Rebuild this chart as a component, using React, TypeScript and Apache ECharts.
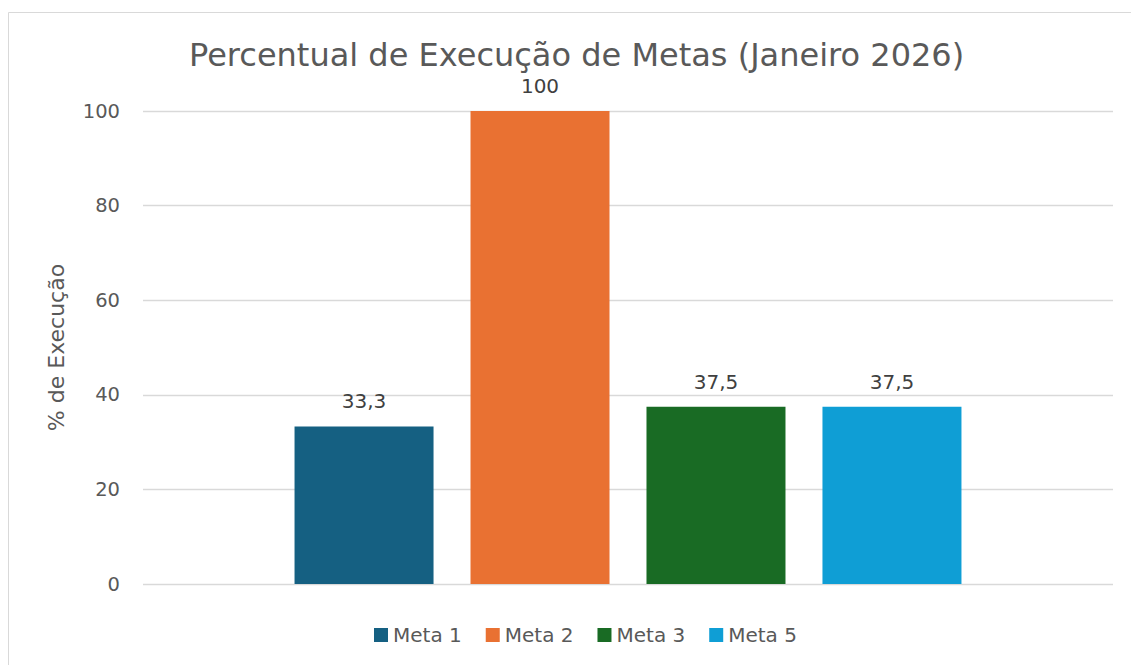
import React, { useEffect, useRef } from "react";
import * as echarts from "echarts";

const categories = [""];
const seriesNames = ["Meta 1", "Meta 2", "Meta 3", "Meta 5"];
const seriesValues = [33.3, 100, 37.5, 37.5];
const seriesColors = ["#156082", "#E97132", "#196B24", "#0F9ED5"];
const yTicks = { min: 0, max: 100, interval: 20 };
const titleText = "Percentual de Execução de Metas (Janeiro 2026)";
const yAxisName = "% de Execução";

const FONT = "'DejaVu Sans', sans-serif";

export default function App() {
  const ref = useRef<HTMLDivElement>(null);
  useEffect(() => {
    if (!ref.current) return;
    const chart = echarts.init(ref.current, undefined, { renderer: "svg" });
    chart.setOption({
      animation: false,
      backgroundColor: "#ffffff",
      textStyle: { fontFamily: FONT },
      title: {
        text: titleText,
        left: 184,
        top: 34,
        textStyle: { fontFamily: FONT, fontSize: 32, fontWeight: "normal", color: "#595959" },
      },
      graphic: [
        {
          type: "rect",
          shape: { x: 8.5, y: 12.5, width: 1140, height: 680 },
          style: { fill: "none", stroke: "#d9d9d9", lineWidth: 1 },
          silent: true,
          z: -1,
        },
      ],
      legend: {
        data: seriesNames,
        left: 369,
        top: 620,
        itemWidth: 14,
        itemHeight: 14,
        itemGap: 24,
        icon: "rect",
        textStyle: { fontFamily: FONT, fontSize: 20, color: "#595959" },
      },
      grid: { left: 143, right: 18, top: 111, bottom: 81, containLabel: false },
      xAxis: {
        type: "category",
        data: categories,
        axisLine: { show: false },
        axisTick: { show: false },
        axisLabel: { show: false },
      },
      yAxis: {
        type: "value",
        min: yTicks.min,
        max: yTicks.max,
        interval: yTicks.interval,
        name: yAxisName,
        nameLocation: "middle",
        nameRotate: 90,
        nameGap: 76,
        nameTextStyle: { fontFamily: FONT, fontSize: 22, color: "#595959" },
        axisLine: { show: false },
        axisTick: { show: false },
        axisLabel: { margin: 23, fontFamily: FONT, fontSize: 19.5, color: "#595959" },
        splitLine: { lineStyle: { color: "#d9d9d9", width: 1.3 } },
      },
      series: seriesNames.map((name, i) => ({
        name,
        type: "bar",
        data: [seriesValues[i]],
        barWidth: 139,
        barGap: "26.6%",
        itemStyle: { color: seriesColors[i] },
        label: {
          show: true,
          position: "top",
          distance: 15,
          fontFamily: FONT,
          fontSize: 20,
          color: "#404040",
          formatter: (p: any) => String(p.value).replace(".", ","),
        },
      })),
    });
    return () => chart.dispose();
  }, []);
  return (
    <div
      ref={ref}
      style={{ position: "fixed", left: 0, top: 0, width: 1131, height: 665 }}
    />
  );
}
